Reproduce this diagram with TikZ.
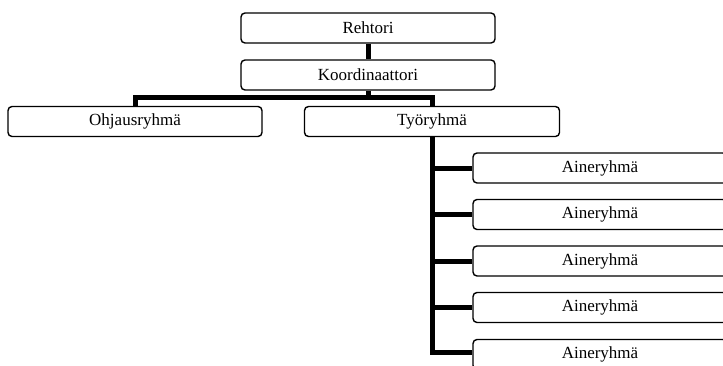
\documentclass[tikz,border=0pt]{standalone}
\usepackage{fontspec}
\setmainfont{Liberation Serif}
\usepackage{tikz}
\usetikzlibrary{positioning}

\tikzset{
  orgbox/.style={draw,line width=1.4pt,rounded corners=4pt,minimum width=254pt,
    minimum height=30pt,inner sep=0pt,font=\fontsize{17}{20}\selectfont},
  orgline/.style={line width=5pt}
}

\begin{document}
\begin{tikzpicture}[x=1pt,y=-1pt]
\useasboundingbox (0,0) rectangle (723,365);
\clip (0,0) rectangle (723,365);
\node[orgbox] (rehtori) at (368,28) {Rehtori};
\node[orgbox] (koord) at (368,75) {Koordinaattori};
\node[orgbox] (ohjaus) at (135,121.5) {Ohjausryhmä};
\node[orgbox,minimum width=255pt] (tyo) at (432,121.5) {Työryhmä};
% subject groups under the working group
\foreach \i/\y in {1/168,2/214.5,3/261,4/307.5,5/354.5}
  \node[orgbox] (aine\i) at (600,\y) {Aineryhmä};
\draw[orgline] (rehtori.south) -- (koord.north);
\draw[orgline] (koord.south) -- ++(0,7) coordinate (bus);
\draw[orgline] (ohjaus.north) |- (bus) -| (tyo.north);
\draw[orgline] (tyo.south) |- ([yshift=2pt]aine5.west);
\foreach \i in {1,...,4}
  \draw[orgline] (tyo.south |- aine\i.west) -- (aine\i.west);
\end{tikzpicture}
\end{document}
